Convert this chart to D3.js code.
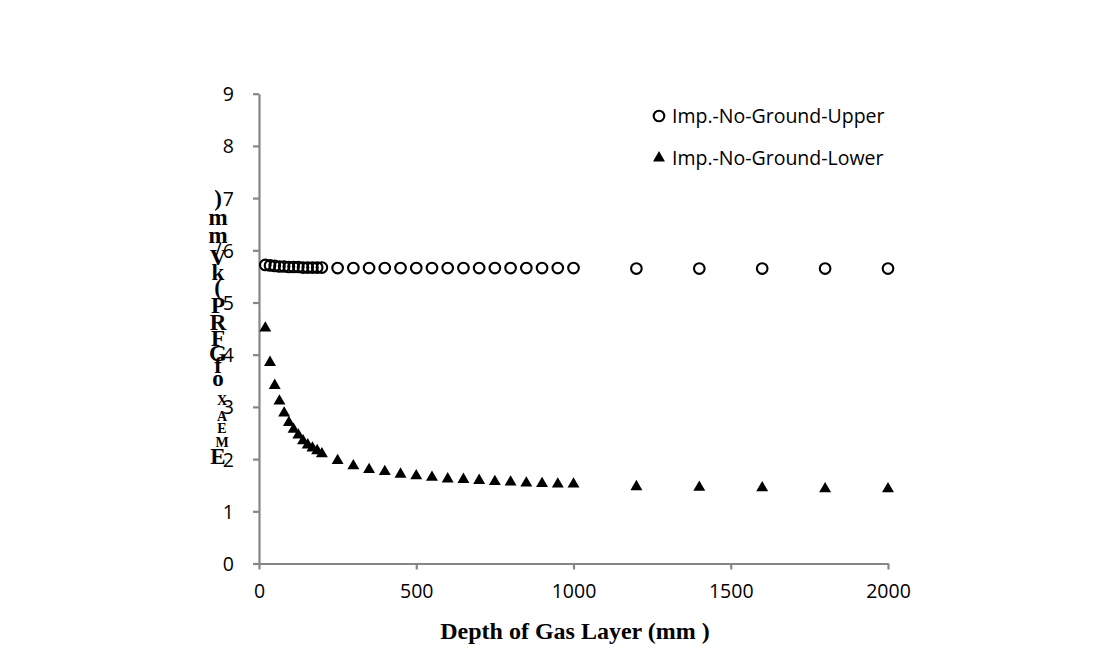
<!DOCTYPE html>
<html><head><meta charset="utf-8">
<script src="https://cdn.jsdelivr.net/npm/d3@7"></script>
<style>body{margin:0;background:#fff}svg{display:block}</style>
</head><body>
<script>
// ---- data ----
const depth = [20,35,50,65,80,95,110,125,140,155,170,185,200,
  250,300,350,400,450,500,550,600,650,700,750,800,850,900,950,1000,
  1200,1400,1600,1800,2000];
const upper = [5.72,5.71,5.70,5.69,5.69,5.68,5.68,5.68,5.67,5.67,5.67,5.67,5.67,
  5.66,5.66,5.66,5.66,5.66,5.66,5.66,5.66,5.66,5.66,5.66,5.66,5.66,5.66,5.66,5.66,
  5.65,5.65,5.65,5.65,5.65];
const lower = [4.51,3.85,3.41,3.11,2.88,2.70,2.57,2.46,2.35,2.27,2.21,2.16,2.10,
  1.97,1.87,1.80,1.76,1.71,1.68,1.65,1.62,1.61,1.59,1.57,1.56,1.54,1.53,1.52,1.52,
  1.47,1.46,1.45,1.43,1.43];
const xTicks = [0,500,1000,1500,2000];
const yTicks = [0,1,2,3,4,5,6,7,8,9];
const seriesNames = ["Imp.-No-Ground-Upper","Imp.-No-Ground-Lower"];
const xTitle = "Depth of Gas Layer (mm )";
// garbled stacked y-axis title as it appears (top to bottom)
const yTitleChars = [")","m","m","/","V","k","(","P","R","F","G","f","o","X","A","E","M","E"];
const yTitleSub = [false,false,false,false,false,false,false,false,false,false,false,false,false,true,true,true,true,false];

// ---- layout ----
const W = 1098, H = 663;
const svg = d3.select("body").append("svg").attr("width", W).attr("height", H);
const x = d3.scaleLinear().domain([0,2000]).range([259,888]);
const y = d3.scaleLinear().domain([0,9]).range([563.5,93.7]);
const axisColor = "#868686";
const tickFont = "'Open Sans', sans-serif";

// x axis
const gx = svg.append("g").attr("transform", `translate(0,${y(0)})`)
  .call(d3.axisBottom(x).tickValues(xTicks).tickFormat(d3.format("d")).tickSize(6).tickSizeOuter(0).tickPadding(15));
// y axis
const gy = svg.append("g").attr("transform", `translate(${x(0)},0)`)
  .call(d3.axisLeft(y).tickValues(yTicks).tickSize(6).tickSizeOuter(0).tickPadding(19));
[gx, gy].forEach(g => {
  g.select(".domain").attr("stroke", axisColor).attr("stroke-width", 2.2);
  g.selectAll(".tick line").attr("stroke", axisColor).attr("stroke-width", 2.2);
  g.selectAll(".tick text").attr("fill", "#000").style("font-family", tickFont).style("font-size", "19.5px");
});
gy.selectAll(".tick text").attr("dy", "0.36em");

// series
const upperData = depth.map((d,i)=>({x:d, y:upper[i]}));
const lowerData = depth.map((d,i)=>({x:d, y:lower[i]}));
svg.append("g").selectAll("circle").data(upperData).join("circle")
  .attr("cx", d=>x(d.x)).attr("cy", d=>y(d.y)).attr("r", 5.3)
  .attr("fill", "none").attr("stroke", "#000").attr("stroke-width", 2.1);
const tri = d3.symbol().type(d3.symbolTriangle).size(62);
svg.append("g").selectAll("path").data(lowerData).join("path")
  .attr("d", tri).attr("fill", "#000")
  .attr("transform", d=>`translate(${x(d.x)},${y(d.y)})`);

// legend
const lg = svg.append("g");
lg.append("circle").attr("cx", 659).attr("cy", 116).attr("r", 5.3)
  .attr("fill","none").attr("stroke","#000").attr("stroke-width",2.1);
lg.append("path").attr("d", tri).attr("fill","#000").attr("transform","translate(659,158)");
seriesNames.forEach((n,i)=>{
  lg.append("text").attr("x", 672).attr("y", 116 + i*42).attr("dy","0.36em")
    .style("font-family", tickFont).style("font-size","19.5px").attr("fill","#000").text(n);
});

// x title
svg.append("text").attr("x", 575).attr("y", 630).attr("dy","0.36em").attr("text-anchor","middle")
  .style("font-family","'Liberation Serif','Times New Roman',serif").style("font-weight","bold")
  .style("font-size","24px").attr("fill","#000").text(xTitle);

// y title (stacked characters)
const yCenters = [198,217,235,250,257,272,287,305,322,338,353,365,378,400,416,428,442,456];
const yt = svg.append("g");
yTitleChars.forEach((c,i)=>{
  yt.append("text").attr("x", yTitleSub[i] ? 222 : 218).attr("y", yCenters[i]).attr("dy","0.35em")
    .attr("text-anchor","middle")
    .style("font-family","'Liberation Serif','Times New Roman',serif").style("font-weight","bold")
    .style("font-size", yTitleSub[i] ? "14px" : "23px").attr("fill","#000").text(c);
});
</script>
</body></html>
